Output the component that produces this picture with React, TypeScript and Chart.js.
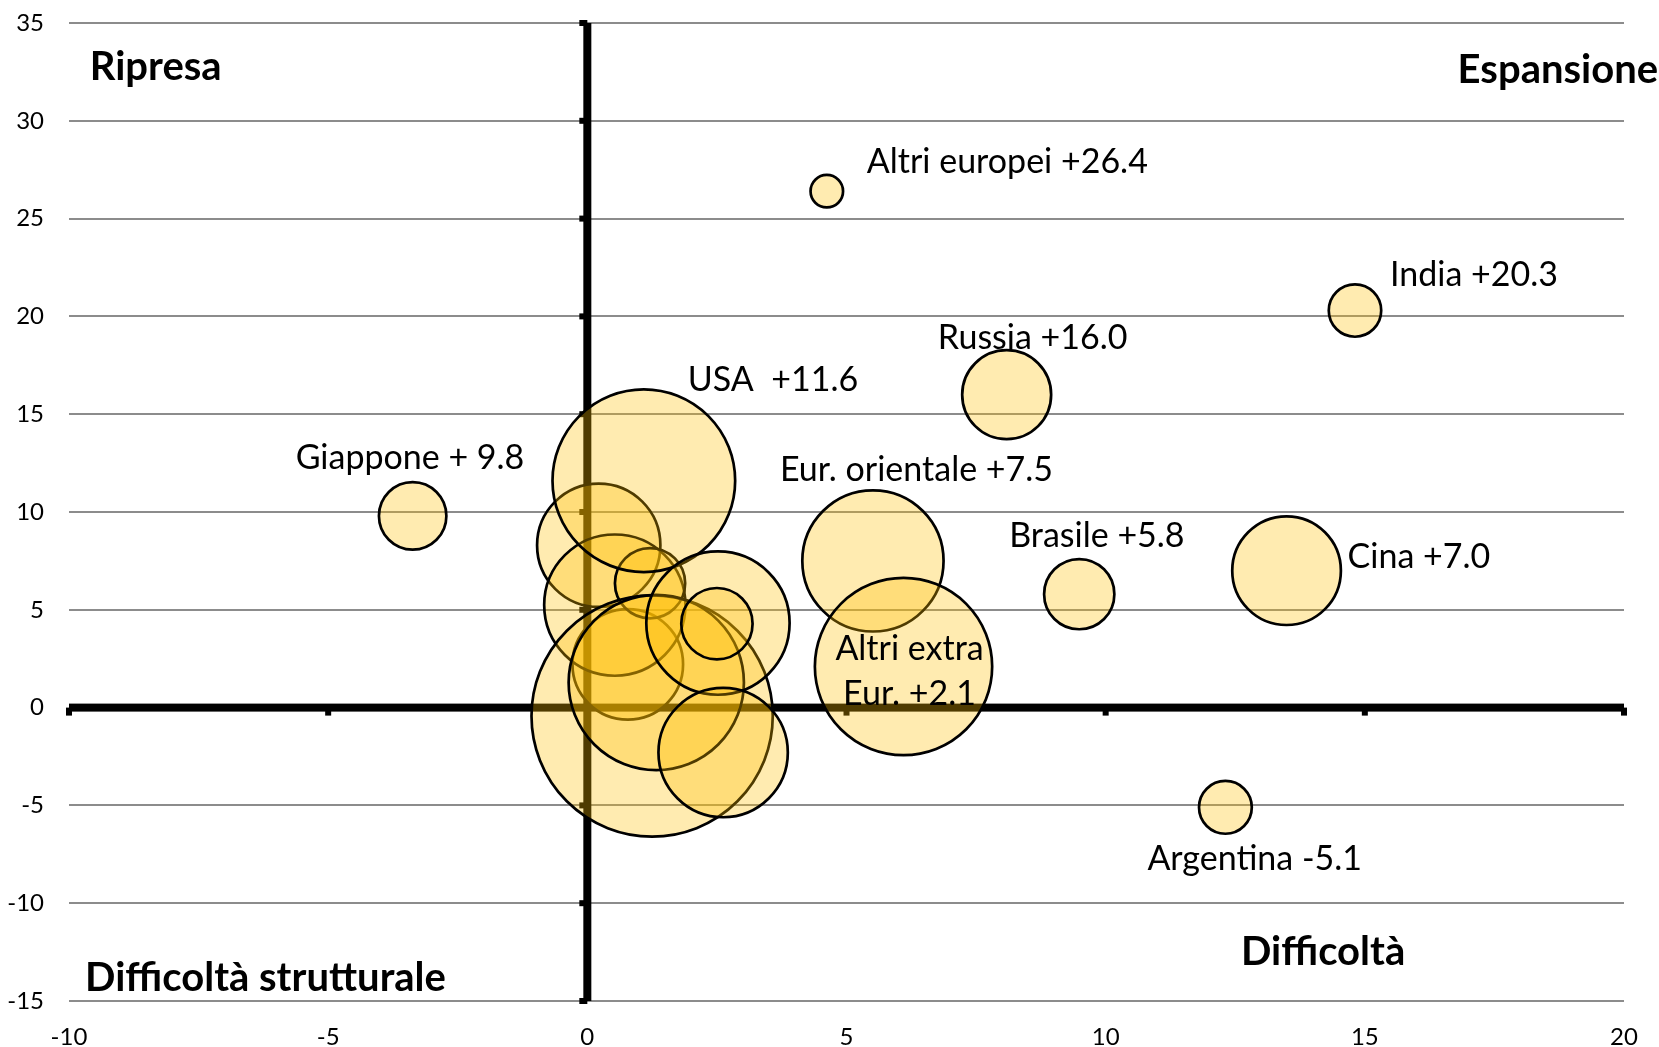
import React, { useEffect, useRef } from "react";
import { Chart, registerables } from "chart.js";

Chart.register(...registerables);

// ---- Data ----
const countries = [
  "Giappone", "Altri europei", "India", "Russia", "Eur. orientale", "Altri extra Eur.",
  "Brasile", "Cina", "Argentina",
  "UE a", "UE b", "UE c", "UE d", "USA", "UE e", "UE f", "UE g", "UE h", "UE i",
];
const xValues = [-3.37, 4.62, 14.81, 8.09, 5.51, 6.1, 9.49, 13.49, 12.31, 0.22, 0.78, 0.53, 1.21, 1.09, 1.25, 1.33, 2.52, 2.5, 2.62];
const yValues = [9.8, 26.4, 20.3, 16.0, 7.5, 2.1, 5.8, 7.0, -5.1, 8.3, 2.21, 5.24, 6.36, 11.6, -0.43, 1.28, 4.32, 4.29, -2.3];
const sizes = [12.3, 3.1, 7.6, 21.0, 51.8, 81.0, 13.3, 31.0, 7.7, 39.7, 32.1, 51.8, 13.3, 85.9, 148.8, 79.2, 53.3, 13.7, 43.6];
const labelTexts = [
  "Giappone + 9.8", "Altri europei +26.4", "India +20.3", "Russia +16.0", "Eur. orientale +7.5",
  "Altri extra\nEur. +2.1", "Brasile +5.8", "Cina +7.0", "Argentina -5.1",
  "", "", "", "", "USA  +11.6", "", "", "", "", "",
];
const xTickLabels = [-10, -5, 0, 5, 10, 15, 20];
const yTickLabels = [-15, -10, -5, 0, 5, 10, 15, 20, 25, 30, 35];
const quadrantTexts = ["Ripresa", "Espansione", "Difficoltà strutturale", "Difficoltà"];
const quadrantX = [-9.6, 16.79, -9.69, 12.61];
const quadrantY = [32.24, 32.1, -14.34, -13.0];

// ---- Styling (label offsets in px relative to bubble centre) ----
const labelStyle: { dx: number; dy: number; align: CanvasTextAlign }[] = [
  { dx: -117, dy: -50, align: "left" },
  { dx: 40, dy: -21, align: "left" },
  { dx: 35, dy: -28, align: "left" },
  { dx: 26, dy: -49, align: "center" },
  { dx: -93, dy: -83, align: "left" },
  { dx: 6, dy: -10, align: "center" },
  { dx: -70, dy: -50, align: "left" },
  { dx: 61, dy: -6, align: "left" },
  { dx: -78, dy: 60, align: "left" },
  { dx: 0, dy: 0, align: "left" },
  { dx: 0, dy: 0, align: "left" },
  { dx: 0, dy: 0, align: "left" },
  { dx: 0, dy: 0, align: "left" },
  { dx: 44, dy: -93, align: "left" },
  { dx: 0, dy: 0, align: "left" },
  { dx: 0, dy: 0, align: "left" },
  { dx: 0, dy: 0, align: "left" },
  { dx: 0, dy: 0, align: "left" },
  { dx: 0, dy: 0, align: "left" },
];

const FONT = "Lato, 'Open Sans', sans-serif";
const BORDER_W = 2.7;
const AXIS_W = 8;
const TEXT_SHIFT = 3;

const crossAxesPlugin = {
  id: "crossAxes",
  beforeDatasetsDraw(chart: any) {
    const { ctx, scales } = chart;
    const x = scales.x;
    const y = scales.y;
    const x0 = x.getPixelForValue(0);
    const y0 = y.getPixelForValue(0);
    ctx.save();
    ctx.fillStyle = "#000";
    ctx.fillRect(x.left, y0 - AXIS_W / 2, x.right - x.left, AXIS_W);
    ctx.fillRect(x0 - AXIS_W / 2, y.top, AXIS_W, y.bottom - y.top);
    for (const v of xTickLabels) {
      const px = x.getPixelForValue(v);
      ctx.fillRect(px - 3, y0, 6, AXIS_W / 2 + 4);
    }
    for (const v of yTickLabels) {
      const py = y.getPixelForValue(v);
      ctx.fillRect(x0 - AXIS_W / 2 - 4, py - 3, AXIS_W / 2 + 4, 6);
    }
    ctx.restore();
  },
};

const textPlugin = {
  id: "texts",
  afterDatasetsDraw(chart: any) {
    const { ctx, scales } = chart;
    const x = scales.x;
    const y = scales.y;
    ctx.save();
    ctx.fillStyle = "#000";
    ctx.textBaseline = "alphabetic";
    ctx.font = `34px ${FONT}`;
    labelTexts.forEach((t, i) => {
      if (!t) return;
      const cx = x.getPixelForValue(xValues[i]);
      const cy = y.getPixelForValue(yValues[i]);
      const st = labelStyle[i];
      ctx.textAlign = st.align;
      t.split("\n").forEach((line, k) => {
        ctx.fillText(line, cx + st.dx, cy + st.dy + k * 45 + TEXT_SHIFT);
      });
    });
    ctx.font = `bold 40px ${FONT}`;
    ctx.textAlign = "left";
    quadrantTexts.forEach((t, i) => {
      ctx.fillText(t, x.getPixelForValue(quadrantX[i]), y.getPixelForValue(quadrantY[i]) + TEXT_SHIFT);
    });
    ctx.restore();
  },
};

export default function App() {
  const ref = useRef<HTMLCanvasElement>(null);
  useEffect(() => {
    let chart: Chart | null = null;
    let cancelled = false;
    const build = () => {
      if (cancelled || !ref.current) return;
      chart = new Chart(ref.current, {
        type: "bubble",
        data: {
          datasets: [
            {
              label: "Paesi",
              data: countries.map((_, i) => ({
                x: xValues[i],
                y: yValues[i],
                r: 10 * Math.sqrt(sizes[i]) - BORDER_W / 2,
              })),
              backgroundColor: "rgba(255,190,0,0.31)",
              borderColor: "#000",
              borderWidth: BORDER_W,
              hoverRadius: 0,
              clip: false,
            } as any,
          ],
        },
        options: {
          animation: false,
          responsive: false,
          devicePixelRatio: 1,
          events: [],
          layout: { autoPadding: false, padding: { top: 23, right: 35, left: 0, bottom: 0 } },
          plugins: {
            legend: { display: false },
            tooltip: { enabled: false },
            title: { display: false },
          },
          scales: {
            x: {
              type: "linear",
              min: xTickLabels[0],
              max: xTickLabels[xTickLabels.length - 1],
              grid: { display: false, drawTicks: false },
              border: { display: false },
              ticks: {
                stepSize: 5,
                padding: 22,
                color: "#000",
                font: { family: FONT, size: 24 },
              },
              afterFit: (s: any) => {
                s.height = 46;
                s.paddingLeft = 0;
                s.paddingRight = 0;
              },
            },
            y: {
              type: "linear",
              min: yTickLabels[0],
              max: yTickLabels[yTickLabels.length - 1],
              grid: { color: "#8c8c8c", lineWidth: 2, drawTicks: false },
              border: { display: false },
              ticks: {
                stepSize: 5,
                padding: 25,
                color: "#000",
                font: { family: FONT, size: 24 },
              },
              afterFit: (s: any) => {
                s.width = 69;
                s.paddingTop = 0;
                s.paddingBottom = 0;
              },
            },
          },
        } as any,
        plugins: [crossAxesPlugin, textPlugin],
      });
    };
    const fonts = (document as any).fonts;
    if (fonts && fonts.load) {
      Promise.all([fonts.load(`34px Lato`), fonts.load(`bold 40px Lato`)]).then(build, build);
    } else {
      build();
    }
    return () => {
      cancelled = true;
      if (chart) chart.destroy();
    };
  }, []);
  return (
    <div style={{ position: "fixed", left: 0, top: 0, width: 1659, height: 1047, background: "#fff" }}>
      <canvas ref={ref} width={1659} height={1047} style={{ display: "block", width: 1659, height: 1047 }} />
    </div>
  );
}
